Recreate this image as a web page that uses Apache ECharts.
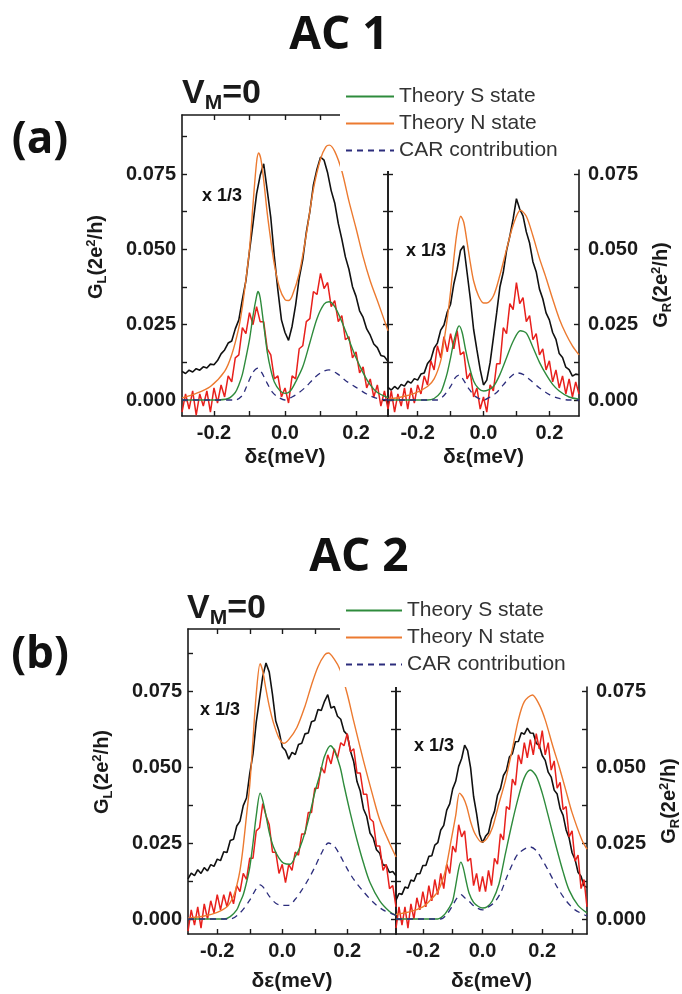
<!DOCTYPE html>
<html>
<head>
<meta charset="utf-8">
<script src="https://cdn.jsdelivr.net/npm/echarts@6/dist/echarts.min.js"></script>
<style>html,body{margin:0;padding:0;background:#fff;}#c{width:682px;height:994px;}</style>
</head>
<body>
<div id="c"></div>
<script>
// ---------- DATA ----------
const xA = [-0.29,-0.28,-0.27,-0.26,-0.25,-0.24,-0.23,-0.22,-0.21,-0.2,
 -0.19,-0.18,-0.17,-0.16,-0.15,-0.14,-0.13,-0.12,-0.11,-0.1,
 -0.09,-0.08,-0.07,-0.06,-0.05,-0.04,-0.03,-0.02,-0.01,0,
 0.01,0.02,0.03,0.04,0.05,0.06,0.07,0.08,0.09,0.1,
 0.11,0.12,0.13,0.14,0.15,0.16,0.17,0.18,0.19,0.2,
 0.21,0.22,0.23,0.24,0.25,0.26,0.27,0.28,0.29];
const xB = [-0.29,-0.28,-0.27,-0.26,-0.25,-0.24,-0.23,-0.22,-0.21,-0.2,
 -0.19,-0.18,-0.17,-0.16,-0.15,-0.14,-0.13,-0.12,-0.11,-0.1,
 -0.09,-0.08,-0.07,-0.06,-0.05,-0.04,-0.03,-0.02,-0.01,0,
 0.01,0.02,0.03,0.04,0.05,0.06,0.07,0.08,0.09,0.1,
 0.11,0.12,0.13,0.14,0.15,0.16,0.17,0.18,0.19,0.2,
 0.21,0.22,0.23,0.24,0.25,0.26,0.27,0.28,0.29,0.3,
 0.31,0.32,0.33,0.34,0.35];

// AC1, left (G_L) measured traces
const aL_black = [0.0095,0.0088,0.0099,0.0093,0.0104,0.0099,0.0110,0.0106,0.0119,0.0117,
 0.0131,0.0153,0.0166,0.0189,0.0196,0.0236,0.0266,0.0334,0.0396,0.0494,
 0.0586,0.0684,0.0745,0.0784,0.0696,0.0605,0.0476,0.0364,0.0266,0.0224,
 0.0198,0.0245,0.0316,0.0405,0.0466,0.0556,0.0625,0.0714,0.0766,0.0806,
 0.0796,0.0754,0.0695,0.0654,0.0586,0.0534,0.0475,0.0434,0.0376,0.0344,
 0.0296,0.0274,0.0236,0.0215,0.0186,0.0174,0.0148,0.0144,0.0128];
const aL_red = [-0.004,0.002,-0.003,0.003,-0.005,0.002,-0.002,0.003,-0.004,0.004,
 -0.001,0.005,0.001,0.008,0.006,0.014,0.015,0.024,0.022,0.029,
 0.025,0.031,0.026,0.026,0.017,0.015,0.007,0.008,0.001,0.004,
 -0.001,0.008,0.007,0.017,0.018,0.026,0.027,0.036,0.035,0.042,
 0.037,0.039,0.031,0.033,0.026,0.028,0.020,0.021,0.014,0.016,
 0.009,0.011,0.004,0.007,0.001,0.005,-0.002,0.003,-0.003];
// AC1, right (G_R) measured traces
const aR_black = [0.0042,0.0033,0.0045,0.0036,0.0052,0.0046,0.0062,0.0056,0.0071,0.0066,
 0.0086,0.0090,0.0121,0.0134,0.0172,0.0189,0.0232,0.0249,0.0292,0.0318,
 0.0386,0.0434,0.0496,0.0512,0.0424,0.0336,0.0234,0.0166,0.0101,0.0050,
 0.0066,0.0124,0.0206,0.0289,0.0376,0.0424,0.0496,0.0544,0.0601,0.0668,
 0.0634,0.0611,0.0558,0.0521,0.0459,0.0426,0.0368,0.0336,0.0289,0.0266,
 0.0224,0.0201,0.0154,0.0141,0.0109,0.0101,0.0079,0.0086,0.0084];
const aR_red = [-0.003,0.003,-0.004,0.002,-0.002,0.004,-0.003,0.004,-0.001,0.005,
 0.002,0.008,0.005,0.013,0.010,0.018,0.014,0.021,0.016,0.022,
 0.017,0.023,0.015,0.016,0.007,0.009,0.001,0.004,-0.003,0.001,
 -0.004,0.005,0.003,0.012,0.012,0.024,0.022,0.032,0.030,0.039,
 0.032,0.034,0.026,0.028,0.020,0.022,0.015,0.017,0.010,0.013,
 0.006,0.010,0.004,0.008,0.002,0.007,0.001,0.006,0.002];
// AC2, left
const bL_black = [0.0132,0.0151,0.0143,0.0162,0.0150,0.0169,0.0158,0.0179,0.0173,0.0197,
 0.0192,0.0221,0.0219,0.0258,0.0262,0.0306,0.0322,0.0373,0.0398,0.0478,
 0.0543,0.0648,0.0724,0.0798,0.0842,0.0812,0.0738,0.0651,0.0618,0.0566,
 0.0554,0.0526,0.0548,0.0541,0.0574,0.0578,0.0609,0.0612,0.0649,0.0653,
 0.0689,0.0686,0.0716,0.0738,0.0694,0.0699,0.0667,0.0657,0.0618,0.0606,
 0.0552,0.0517,0.0452,0.0421,0.0362,0.0337,0.0283,0.0266,0.0228,0.0216,
 0.0178,0.0176,0.0153,0.0156,0.0142];
const bL_red = [-0.004,0.003,-0.002,0.004,-0.003,0.005,0.000,0.006,0.002,0.008,
 0.003,0.008,0.004,0.009,0.005,0.011,0.009,0.015,0.013,0.020,
 0.020,0.029,0.030,0.038,0.034,0.031,0.022,0.022,0.015,0.018,
 0.012,0.018,0.016,0.022,0.021,0.028,0.028,0.035,0.035,0.043,
 0.043,0.050,0.048,0.054,0.051,0.056,0.053,0.058,0.057,0.061,
 0.055,0.056,0.048,0.048,0.041,0.041,0.033,0.032,0.024,0.024,
 0.016,0.018,0.010,0.011,0.004];
// AC2, right
const bR_black = [0.0062,0.0084,0.0081,0.0105,0.0101,0.0128,0.0124,0.0149,0.0149,0.0176,
 0.0176,0.0206,0.0208,0.0243,0.0251,0.0293,0.0308,0.0358,0.0379,0.0428,
 0.0453,0.0502,0.0528,0.0572,0.0554,0.0497,0.0403,0.0347,0.0279,0.0251,
 0.0272,0.0284,0.0328,0.0354,0.0407,0.0429,0.0472,0.0489,0.0533,0.0544,
 0.0583,0.0584,0.0613,0.0608,0.0628,0.0612,0.0611,0.0578,0.0571,0.0538,
 0.0522,0.0483,0.0467,0.0424,0.0411,0.0363,0.0341,0.0293,0.0267,0.0218,
 0.0196,0.0154,0.0141,0.0109,0.0104];
const bR_red = [-0.003,0.004,-0.002,0.004,-0.003,0.005,0.000,0.007,0.003,0.009,
 0.004,0.011,0.006,0.013,0.008,0.015,0.010,0.018,0.015,0.024,
 0.022,0.031,0.027,0.029,0.019,0.020,0.011,0.015,0.009,0.014,
 0.009,0.016,0.011,0.020,0.018,0.028,0.026,0.037,0.036,0.046,
 0.044,0.054,0.051,0.058,0.053,0.059,0.054,0.061,0.056,0.062,
 0.054,0.058,0.049,0.052,0.043,0.045,0.036,0.037,0.027,0.029,
 0.019,0.021,0.010,0.013,0.004];

// Theory curves [x, G]
const aL_N = [[-0.29,0.0007],[-0.25,0.0022],[-0.21,0.0045],[-0.17,0.0095],[-0.15,0.015],[-0.13,0.024],[-0.12,0.031],[-0.11,0.040],[-0.10,0.050],[-0.09,0.065],[-0.08,0.079],[-0.074,0.082],[-0.068,0.080],[-0.06,0.073],[-0.05,0.062],[-0.04,0.053],[-0.03,0.045],[-0.015,0.037],[0,0.0333],[0.01,0.033],[0.02,0.0345],[0.04,0.042],[0.06,0.055],[0.08,0.070],[0.10,0.080],[0.115,0.084],[0.125,0.0846],[0.14,0.0825],[0.16,0.076],[0.18,0.066],[0.20,0.057],[0.22,0.0475],[0.24,0.0395],[0.26,0.033],[0.29,0.023]];
const aL_S = [[-0.29,0],[-0.2,0],[-0.16,0.0005],[-0.14,0.0025],[-0.13,0.005],[-0.12,0.0085],[-0.11,0.014],[-0.10,0.020],[-0.09,0.028],[-0.08,0.0345],[-0.076,0.036],[-0.07,0.034],[-0.06,0.025],[-0.05,0.016],[-0.04,0.010],[-0.03,0.006],[-0.015,0.0032],[0,0.0022],[0.015,0.003],[0.03,0.006],[0.05,0.011],[0.07,0.019],[0.09,0.027],[0.11,0.0318],[0.124,0.0326],[0.14,0.031],[0.16,0.026],[0.18,0.020],[0.20,0.014],[0.22,0.009],[0.24,0.005],[0.26,0.0025],[0.29,0.0008]];
const aL_CAR = [[-0.29,0],[-0.14,0],[-0.12,0.0015],[-0.11,0.004],[-0.09,0.0092],[-0.076,0.0106],[-0.065,0.009],[-0.05,0.0055],[-0.035,0.0025],[-0.02,0.001],[0,0],[0.02,0.001],[0.04,0.0025],[0.06,0.0045],[0.08,0.007],[0.10,0.009],[0.124,0.010],[0.15,0.0085],[0.17,0.0065],[0.20,0.0042],[0.23,0.002],[0.26,0.0005],[0.29,0]];
const aR_N = [[-0.29,0.0003],[-0.25,0.001],[-0.21,0.0022],[-0.17,0.0045],[-0.15,0.007],[-0.13,0.013],[-0.12,0.0196],[-0.11,0.027],[-0.10,0.036],[-0.09,0.047],[-0.08,0.056],[-0.069,0.061],[-0.06,0.059],[-0.05,0.0525],[-0.04,0.0455],[-0.03,0.0395],[-0.015,0.0345],[0,0.0322],[0.01,0.0322],[0.03,0.0345],[0.05,0.0415],[0.07,0.050],[0.09,0.058],[0.112,0.063],[0.13,0.061],[0.15,0.0545],[0.17,0.047],[0.19,0.0405],[0.21,0.0335],[0.23,0.027],[0.25,0.022],[0.27,0.018],[0.29,0.015]];
const aR_S = [[-0.29,0],[-0.17,0],[-0.15,0.0005],[-0.13,0.0025],[-0.12,0.0053],[-0.11,0.009],[-0.10,0.014],[-0.09,0.0195],[-0.08,0.0235],[-0.074,0.0246],[-0.065,0.0225],[-0.055,0.017],[-0.045,0.012],[-0.03,0.0063],[-0.015,0.0038],[0,0.003],[0.015,0.0034],[0.031,0.0046],[0.05,0.0085],[0.07,0.014],[0.09,0.0195],[0.112,0.023],[0.13,0.0222],[0.15,0.0175],[0.17,0.0125],[0.19,0.0085],[0.21,0.0052],[0.23,0.003],[0.26,0.001],[0.29,0.0003]];
const aR_CAR = [[-0.29,0],[-0.14,0],[-0.12,0.0015],[-0.10,0.0045],[-0.085,0.0075],[-0.074,0.0083],[-0.06,0.0065],[-0.045,0.0038],[-0.025,0.0012],[0,0],[0.02,0.001],[0.04,0.0025],[0.06,0.005],[0.08,0.0075],[0.102,0.009],[0.12,0.0085],[0.14,0.0068],[0.17,0.004],[0.20,0.0018],[0.23,0.0005],[0.26,0],[0.29,0]];
const bL_N = [[-0.29,0.0003],[-0.24,0.001],[-0.20,0.0022],[-0.17,0.004],[-0.15,0.0075],[-0.14,0.011],[-0.13,0.016],[-0.12,0.024],[-0.11,0.034],[-0.10,0.044],[-0.09,0.059],[-0.08,0.074],[-0.068,0.084],[-0.06,0.0815],[-0.05,0.0755],[-0.04,0.070],[-0.027,0.0645],[-0.01,0.0595],[0.005,0.0578],[0.02,0.059],[0.045,0.063],[0.07,0.070],[0.09,0.077],[0.11,0.083],[0.13,0.0868],[0.142,0.0875],[0.16,0.0855],[0.178,0.082],[0.20,0.074],[0.22,0.065],[0.25,0.052],[0.28,0.040],[0.30,0.0326],[0.33,0.025],[0.35,0.0204]];
const bL_S = [[-0.29,0],[-0.18,0],[-0.16,0.0008],[-0.14,0.003],[-0.13,0.0055],[-0.12,0.008],[-0.11,0.012],[-0.10,0.017],[-0.09,0.025],[-0.08,0.034],[-0.068,0.0414],[-0.06,0.039],[-0.05,0.034],[-0.04,0.0285],[-0.027,0.0237],[-0.01,0.020],[0.004,0.0184],[0.024,0.018],[0.04,0.0205],[0.055,0.0237],[0.07,0.0285],[0.086,0.035],[0.10,0.0415],[0.117,0.048],[0.13,0.0535],[0.148,0.057],[0.16,0.0555],[0.178,0.050],[0.19,0.044],[0.209,0.035],[0.23,0.026],[0.25,0.0184],[0.27,0.012],[0.30,0.006],[0.33,0.0025],[0.35,0.0012]];
const bL_CAR = [[-0.29,0],[-0.16,0],[-0.13,0.002],[-0.10,0.0062],[-0.08,0.010],[-0.068,0.0112],[-0.055,0.010],[-0.04,0.0075],[-0.02,0.0052],[0,0.0045],[0.02,0.0045],[0.04,0.0065],[0.06,0.0095],[0.08,0.013],[0.10,0.017],[0.12,0.0215],[0.142,0.025],[0.16,0.024],[0.18,0.0205],[0.20,0.0165],[0.22,0.013],[0.25,0.009],[0.28,0.0055],[0.31,0.003],[0.35,0.0012]];
const bR_N = [[-0.29,0.0015],[-0.24,0.0025],[-0.20,0.004],[-0.177,0.006],[-0.15,0.009],[-0.13,0.014],[-0.12,0.018],[-0.105,0.026],[-0.09,0.034],[-0.077,0.0414],[-0.065,0.040],[-0.053,0.037],[-0.04,0.032],[-0.025,0.028],[-0.003,0.0253],[0.015,0.0265],[0.033,0.030],[0.055,0.038],[0.077,0.0457],[0.10,0.056],[0.12,0.0655],[0.14,0.0715],[0.167,0.0737],[0.19,0.0705],[0.21,0.0655],[0.235,0.057],[0.257,0.050],[0.28,0.042],[0.30,0.035],[0.333,0.026],[0.35,0.023]];
const bR_S = [[-0.29,0],[-0.15,0],[-0.13,0.0012],[-0.11,0.004],[-0.10,0.006],[-0.09,0.011],[-0.08,0.0165],[-0.073,0.0187],[-0.065,0.017],[-0.055,0.0125],[-0.045,0.0085],[-0.03,0.0055],[-0.015,0.0042],[0,0.0036],[0.015,0.004],[0.033,0.006],[0.055,0.0115],[0.077,0.0217],[0.10,0.032],[0.12,0.040],[0.14,0.0465],[0.16,0.049],[0.18,0.047],[0.20,0.0414],[0.22,0.034],[0.247,0.0237],[0.27,0.0155],[0.29,0.0095],[0.32,0.0045],[0.35,0.002]];
const bR_CAR = [[-0.29,0],[-0.14,0],[-0.12,0.0015],[-0.10,0.0045],[-0.085,0.007],[-0.072,0.008],[-0.06,0.007],[-0.045,0.0058],[-0.025,0.004],[0,0.003],[0.02,0.004],[0.04,0.0055],[0.06,0.0085],[0.08,0.0135],[0.10,0.018],[0.12,0.0215],[0.16,0.0237],[0.18,0.0225],[0.20,0.0195],[0.22,0.016],[0.25,0.0105],[0.28,0.006],[0.31,0.003],[0.35,0.001]];

// Tick values / labels
const xTicksA = [-0.2,-0.1,0,0.1,0.2];
const xTicksB = [-0.2,-0.1,0,0.1,0.2,0.3];
const xLabelVals = [-0.2,0,0.2];
const yTicks = [0,0.0125,0.025,0.0375,0.05,0.0625,0.075,0.0875];
const yLabelVals = [0,0.025,0.05,0.075];
const legendNames = ['Theory S state','Theory N state','CAR contribution'];

// ---------- CHART ----------
const FONT = '"Liberation Sans", Arial, Helvetica, sans-serif';
const TFONT = '"Open Sans", "Liberation Sans", sans-serif';
const AX = '#1a1a1a';
const C = {black:'#111111', red:'#e8201c', green:'#2e8b3c', orange:'#ec7a30', car:'#2c2d7c'};

const grids = [
  {left:182, top:115, width:206, height:301, xmin:-0.29, xmax:0.29, ymin:-0.00531, ymax:0.09459, side:'L', xt:xTicksA, nameGap:31},
  {left:388, top:170, width:191, height:246, xmin:-0.29, xmax:0.29, ymin:-0.00531, ymax:0.07634, side:'R', xt:xTicksA, nameGap:31},
  {left:188, top:629, width:208, height:305, xmin:-0.29, xmax:0.35, ymin:-0.00493, ymax:0.09539, side:'L', xt:xTicksB, nameGap:37},
  {left:396, top:687, width:191, height:247, xmin:-0.29, xmax:0.35, ymin:-0.00493, ymax:0.07632, side:'R', xt:xTicksB, nameGap:37}
];

const lineAx = {onZero:false, lineStyle:{color:AX, width:1.6}};
const tickStyle = {color:AX, width:1.4};
const labelStyle = {fontFamily:FONT, fontWeight:'bold', fontSize:20, color:AX};

const xAxes = [], yAxes = [], bottomX = [], leftY = [];
grids.forEach((g, i) => {
  bottomX.push(xAxes.length);
  xAxes.push({type:'value', gridIndex:i, position:'bottom', min:g.xmin, max:g.xmax,
    axisLine:lineAx, splitLine:{show:false},
    axisTick:{inside:true, length:5, customValues:g.xt, lineStyle:tickStyle},
    axisLabel:Object.assign({customValues:xLabelVals, margin:7, formatter:v=>v.toFixed(1)}, labelStyle),
    name:'δε(meV)', nameLocation:'middle', nameGap:g.nameGap,
    nameTextStyle:{fontFamily:FONT, fontWeight:'bold', fontSize:21, color:AX}});
  if (g.side === 'L') {
    xAxes.push({type:'value', gridIndex:i, position:'top', min:g.xmin, max:g.xmax,
      axisLine:lineAx, splitLine:{show:false},
      axisTick:{inside:true, length:5, customValues:g.xt, lineStyle:tickStyle},
      axisLabel:{show:false}});
  }
  const yt = yTicks.filter(v => v <= g.ymax);
  const mkY = (pos, labeled) => ({type:'value', gridIndex:i, position:pos, min:g.ymin, max:g.ymax,
      axisLine:lineAx, splitLine:{show:false},
      axisTick:{inside:true, length:5, customValues:yt, lineStyle:tickStyle},
      axisLabel:labeled ? Object.assign({customValues:yLabelVals, margin:pos==='left'?6:9, formatter:v=>v.toFixed(3)}, labelStyle) : {show:false}});
  leftY.push(yAxes.length);
  yAxes.push(mkY('left', g.side === 'L'));
  yAxes.push(mkY('right', g.side === 'R'));
});

const zipX = (xs, ys) => ys.map((v, k) => [xs[k], v]);
const panels = [
  {black:zipX(xA, aL_black), red:zipX(xA, aL_red), S:aL_S, N:aL_N, CAR:aL_CAR},
  {black:zipX(xA, aR_black), red:zipX(xA, aR_red), S:aR_S, N:aR_N, CAR:aR_CAR},
  {black:zipX(xB, bL_black), red:zipX(xB, bL_red), S:bL_S, N:bL_N, CAR:bL_CAR},
  {black:zipX(xB, bR_black), red:zipX(xB, bR_red), S:bR_S, N:bR_N, CAR:bR_CAR}
];
const panelTag = ['AC1 G_L','AC1 G_R','AC2 G_L','AC2 G_R'];
const series = [];
panels.forEach((p, i) => {
  const base = {type:'line', xAxisIndex:bottomX[i], yAxisIndex:leftY[i], symbol:'none', showSymbol:false, animation:false, clip:true};
  series.push(Object.assign({}, base, {name:'Measured x 1/3 ('+panelTag[i]+')', data:p.black, lineStyle:{color:C.black, width:1.6}, itemStyle:{color:C.black}, z:2}));
  series.push(Object.assign({}, base, {name:'Measured ('+panelTag[i]+')', data:p.red, lineStyle:{color:C.red, width:1.5}, itemStyle:{color:C.red}, z:3}));
  series.push(Object.assign({}, base, {name:'Theory S state', data:p.S, smooth:0.3, lineStyle:{color:C.green, width:1.4}, itemStyle:{color:C.green}, z:4}));
  series.push(Object.assign({}, base, {name:'Theory N state', data:p.N, smooth:0.3, lineStyle:{color:C.orange, width:1.4}, itemStyle:{color:C.orange}, z:4}));
  series.push(Object.assign({}, base, {name:'CAR contribution', data:p.CAR, smooth:0.3, lineStyle:{color:C.car, width:1.3, type:[6,5]}, itemStyle:{color:C.car}, z:4}));
});

const legendBase = {orient:'vertical', itemHeight:12, itemGap:6, selectedMode:false,
  backgroundColor:'#ffffff', z:10,
  itemStyle:{color:'rgba(0,0,0,0)', borderColor:'rgba(0,0,0,0)', borderWidth:0, opacity:0},
  textStyle:{fontFamily:FONT, fontSize:21, color:'#333333'}, data:legendNames};

const subStyles = (big, small, dropPad, upPad) => ({
  n:{fontFamily:FONT, fontWeight:'bold', fontSize:big, fill:AX, color:AX},
  sub:{fontFamily:FONT, fontWeight:'bold', fontSize:small, fill:AX, color:AX, padding:[dropPad,0,0,0]},
  sup:{fontFamily:FONT, fontWeight:'bold', fontSize:small, fill:AX, color:AX, padding:[0,0,upPad,0]}
});
const txt = (text, x, y, font, align, extra) => Object.assign({type:'text', x:x, y:y, z:20,
  style:{text:text, font:font, fill:'#111', align:align||'center', verticalAlign:'middle'}}, extra||{});
const richTxt = (text, x, y, rich, rot) => ({type:'text', x:x, y:y, rotation:rot||0, z:20,
  style:{text:text, rich:rich, fill:AX, align:rot?'center':'left', verticalAlign:'middle'}});

const GL = '{n|G}{sub|L}{n|(2e}{sup|2}{n|/h)}';
const GR = '{n|G}{sub|R}{n|(2e}{sup|2}{n|/h)}';
const VM = '{n|V}{sub|M}{n|=0}';
const axRich = subStyles(20, 13, 12, 10);
const vmRich = subStyles(34, 21, 18, 0);

const option = {
  backgroundColor:'#ffffff',
  animation:false,
  grid: grids.map(g => ({left:g.left, top:g.top, width:g.width, height:g.height})),
  xAxis: xAxes,
  yAxis: yAxes,
  legend: [
    Object.assign({}, legendBase, {left:340, top:82, itemWidth:48, padding:[4,14,10,5]}),
    Object.assign({}, legendBase, {left:340, top:596, itemWidth:56, padding:[4,14,12,5]})
  ],
  graphic: [
    txt('AC 1', 339, 36, 'bold 46px ' + TFONT),
    txt('AC 2', 359, 558, 'bold 46px ' + TFONT),
    txt('(a)', 40, 140, 'bold 44px ' + TFONT),
    txt('(b)', 40, 655, 'bold 44px ' + TFONT),
    richTxt(VM, 182, 94, vmRich),
    richTxt(VM, 187, 609, vmRich),
    txt('x 1/3', 222, 196, 'bold 18px ' + FONT),
    txt('x 1/3', 426, 251, 'bold 18px ' + FONT),
    txt('x 1/3', 220, 710, 'bold 18px ' + FONT),
    txt('x 1/3', 434, 746, 'bold 18px ' + FONT),
    richTxt(GL, 96, 257, axRich, Math.PI/2),
    richTxt(GR, 661, 285, axRich, Math.PI/2),
    richTxt(GL, 102, 772, axRich, Math.PI/2),
    richTxt(GR, 669, 801, axRich, Math.PI/2)
  ],
  series: series
};

const chart = echarts.init(document.getElementById('c'), null, {renderer:'canvas'});
chart.setOption(option);
</script>
</body>
</html>
